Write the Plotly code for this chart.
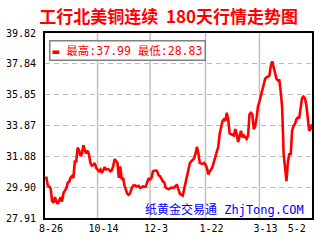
import plotly.graph_objects as go

# Price series (180-day continuous North-American copper)
prices = [
    30.48, 30.50, 29.98, 29.94, 29.81, 29.00, 28.90, 29.25, 28.97, 28.83,
    29.04, 29.25, 28.97, 29.52, 29.67, 29.81, 30.19, 30.23, 30.50, 30.60,
    30.50, 31.55, 31.55, 32.44, 32.28,
    31.90, 32.03, 32.60, 32.28, 32.07, 32.24, 31.97, 31.45, 31.28, 31.34,
    31.45, 31.13, 30.98, 30.92, 31.03, 30.81,
    30.98, 31.19, 31.03,
    31.06, 31.03, 30.92, 30.98, 31.23, 31.70, 31.55, 31.45, 30.50, 31.23,
    30.40, 30.50, 29.98, 29.67, 29.46, 29.40, 29.52, 29.81, 29.98,
    30.02, 29.96,
    29.94, 29.98, 29.85, 29.88, 29.94, 29.92,
    29.94, 30.23, 30.44, 30.40, 30.50, 30.92, 30.96,
    30.98, 30.92, 30.65, 30.60, 30.40, 30.27, 30.19,
    29.87, 29.80, 29.77, 29.81, 29.87, 29.86,
    29.87, 29.98, 30.02, 29.73, 29.46, 29.40,
    29.35, 29.77, 30.20,
    30.60, 30.92, 31.45, 31.55, 31.65,
    31.75, 32.07, 32.49, 32.07, 31.45, 31.42,
    31.40, 31.45, 31.34, 31.13, 30.71, 30.92, 31.03, 31.23, 31.55, 31.75,
    32.17, 32.49, 33.32, 33.74, 34.16, 34.26, 34.16, 34.68, 34.26, 33.36,
    33.32, 33.28,
    33.22, 33.63, 33.32, 32.80, 33.11, 33.53, 33.11, 33.22, 33.10,
    33.00, 33.22, 34.58, 34.68, 34.58, 33.63, 33.84, 34.37, 35.10, 35.41,
    35.83, 36.04, 36.67, 36.87, 36.98, 37.00,
    37.08, 37.71, 37.99, 37.61, 37.19, 36.87, 36.77, 36.77, 36.04, 34.99,
    32.07, 31.13, 30.29, 31.45, 32.07, 31.97,
    33.53, 33.84, 33.95, 34.26, 34.37, 34.37, 34.99, 35.62, 35.73, 35.62,
    35.20, 34.26, 33.53, 33.63, 33.95,
]

x_labels = ["8-26", "10-14", "12-3", "1-22", "3-13", "5-2"]
x_label_idx = [0, 37, 74, 113, 151, 173]
x_grid_idx = [37, 74, 113, 151]

y_ticks = [27.91, 29.90, 31.88, 33.87, 35.85, 37.84, 39.82]

title_text = "工行北美铜连续  180天行情走势图"
watermark = "纸黄金交易通 ZhjTong.COM"

n = len(prices)
xs = list(range(n))

mono = "DejaVu Sans Mono, Noto Sans CJK SC"

fig = go.Figure()
fig.add_trace(go.Scatter(
    x=xs, y=prices, mode="lines",
    line=dict(color="#ff0000", width=2.6),
    showlegend=False, hoverinfo="skip",
))

shapes = [
    dict(type="line", xref="x", yref="paper", x0=g, x1=g, y0=0, y1=1,
         line=dict(color="#c0c0c0", width=1.5), layer="below")
    for g in x_grid_idx
]

legend_text = ("<span style='color:#ff0000'>▬</span> 最高:%.2f 最低:%.2f"
               % (max(prices), min(prices)))

fig.update_layout(
    width=320, height=240, autosize=False,
    margin=dict(l=43, r=6, t=33, b=17, pad=0),
    paper_bgcolor="white", plot_bgcolor="white",
    title=dict(text="<b>" + title_text + "</b>", x=0.527, xanchor="center",
               y=0.93, yanchor="middle", xref="container", yref="container",
               font=dict(family="Noto Sans CJK SC", size=17, color="#ff0000")),
    xaxis=dict(range=[0, n - 1], tickvals=x_label_idx, ticktext=x_labels,
               showgrid=False, zeroline=False, ticks="",
               showline=True, linecolor="black", linewidth=2, mirror=True,
               tickfont=dict(family=mono, size=10, color="black"),
               ticklabelshift=6),
    yaxis=dict(range=[y_ticks[0], y_ticks[-1]], tickvals=y_ticks,
               ticktext=["%.2f" % v for v in y_ticks],
               showgrid=True, gridcolor="#bbbbbb", gridwidth=1, griddash="5px,4px",
               zeroline=False, ticks="",
               showline=True, linecolor="black", linewidth=2, mirror=True,
               tickfont=dict(family=mono, size=10, color="black"),
               ticklabelstandoff=5),
    shapes=shapes,
    annotations=[
        dict(text=legend_text, xref="paper", yref="paper", x=0.015, y=0.963,
             xanchor="left", yanchor="top", showarrow=False,
             font=dict(family=mono, size=11.5, color="#ff0000"),
             bgcolor="white", bordercolor="#808080", borderwidth=1.5, borderpad=2),
        dict(text=watermark, xref="paper", yref="paper", x=0.978, y=0.047,
             xanchor="right", yanchor="middle", showarrow=False,
             font=dict(family=mono, size=12, color="#0000ff")),
    ],
)

fig.write_html("out.html")
